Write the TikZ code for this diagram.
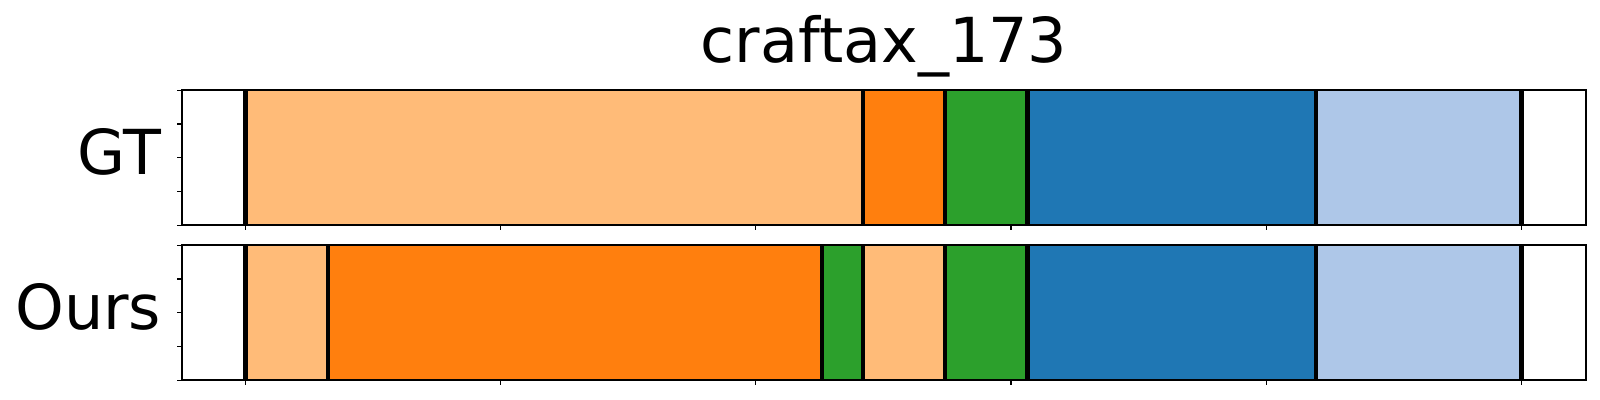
\documentclass[tikz,border=0pt]{standalone}
\usepackage{fontspec}
\setmainfont{DejaVu Sans}
\usepackage{xcolor}
\usepackage{tikz}
\usetikzlibrary{calc, positioning}
\definecolor{tabblue}{HTML}{1F77B4}
\definecolor{tablightblue}{HTML}{AEC7E8}
\definecolor{taborange}{HTML}{FF7F0E}
\definecolor{tablightorange}{HTML}{FFBB78}
\definecolor{tabgreen}{HTML}{2CA02C}
\tikzset{
    panel/.style={draw=black, line width=0.8pt},
    cut/.style={draw=black, line width=2.1pt},
    axtick/.style={draw=black, line width=0.6pt},
    rowlabel/.style={font=\fontsize{31}{31}\selectfont, inner sep=0pt, anchor=base east},
    plottitle/.style={font=\fontsize{31}{31}\selectfont, inner sep=0pt, anchor=base}
}

\begin{document}
\begin{tikzpicture}[x=0.5pt, y=-0.5pt]
    \useasboundingbox (0,0) rectangle (1600,400);

    % Title and row labels
    \node[plottitle] (title) at (884,62.7) {craftax\_173};
    \node[rowlabel] (gtlab) at (161.5,175) {GT};
    \node[rowlabel] (ourslab) at (161.5,330) {Ours};

    % Segments, one step = one unit
    \begin{scope}[shift={(245.5,0)}, x=20.58pt]
        % GT
        \foreach \a/\b/\c in {0/15/tablightorange, 15/17/taborange, 17/19/tabgreen,
                              19/26/tabblue, 26/31/tablightblue}
            \fill[\c] (\a,90.3) rectangle (\b,225.3);
        \foreach \k in {0,15,17,19,26,31}
            \draw[cut] (\k,90.3) -- (\k,225.3);

        % Ours
        \foreach \a/\b/\c in {0/2/tablightorange, 2/14/taborange, 14/15/tabgreen,
                              15/17/tablightorange, 17/19/tabgreen, 19/26/tabblue, 26/31/tablightblue}
            \fill[\c] (\a,245.3) rectangle (\b,380.3);
        \foreach \k in {0,2,14,15,17,19,26,31}
            \draw[cut] (\k,245.3) -- (\k,380.3);

        % x ticks
        \foreach \k in {0,6.2,...,31.1} {
            \draw[axtick] (\k,225.3) -- (\k,230.3);
            \draw[axtick] (\k,380.3) -- (\k,385.3);
        }
    \end{scope}

    % Frames and y ticks
    \foreach \top in {90.3, 245.3} {
        \draw[panel] (181.7,\top) rectangle (1585.7,\top+135);
        \foreach \i in {0,...,4}
            \draw[axtick] (181.7,\top+33.75*\i) -- (176.7,\top+33.75*\i);
    }
\end{tikzpicture}
\end{document}
